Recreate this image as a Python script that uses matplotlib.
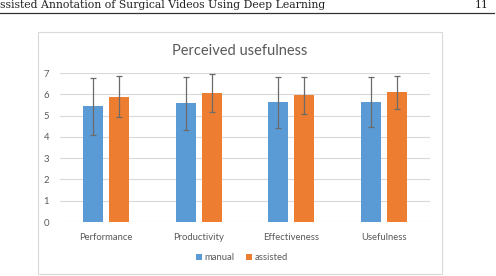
import numpy as np
import matplotlib.pyplot as plt
from matplotlib.patches import Rectangle

categories = ['Performance', 'Productivity', 'Effectiveness', 'Usefulness']
manual = [5.43, 5.57, 5.62, 5.62]
manual_err = [1.35, 1.25, 1.2, 1.17]
assisted = [5.88, 6.06, 5.95, 6.1]
assisted_err = [0.97, 0.88, 0.87, 0.78]
yticks = [0, 1, 2, 3, 4, 5, 6, 7]

plt.rcParams['font.family'] = ['Lato', 'DejaVu Sans']
grey = '#595959'

fig = plt.figure(figsize=(4.96, 2.76), dpi=100)

# page header
fig.text(0.0, 0.999, 'ssisted Annotation of Surgical Videos Using Deep Learning',
         family='DejaVu Serif', fontsize=7.8, va='top', ha='left', color='#222222')
fig.text(0.985, 0.999, '11', family='DejaVu Serif', fontsize=7.8, va='top', ha='right', color='#222222')
fig.add_artist(plt.Line2D([0, 0.996], [1 - 12.5 / 276] * 2, color='#333333', lw=0.9))

# chart box
fig.add_artist(Rectangle((38 / 496, 2 / 276), 404 / 496, 242 / 276, fill=False,
                         edgecolor='#D9D9D9', lw=0.8))

ax = fig.add_axes([60 / 496, 1 - 222 / 276, 370 / 496, 149 / 276])
x = np.arange(len(categories))
w = 0.22
off = 0.14
ekw = dict(ecolor='#6b6b6b', elinewidth=0.9, capsize=2.2, capthick=0.9)
ax.bar(x - off, manual, w, yerr=manual_err, color='#5B9BD5', label='manual', error_kw=ekw, zorder=3)
ax.bar(x + off, assisted, w, yerr=assisted_err, color='#ED7D31', label='assisted', error_kw=ekw, zorder=3)

ax.set_xlim(-0.5, len(categories) - 0.5)
ax.set_ylim(0, 7)
ax.set_yticks(yticks)
ax.set_xticks(x)
ax.set_xticklabels(categories)
ax.grid(axis='y', color='#D9D9D9', lw=0.8, zorder=0)
for s in ax.spines.values():
    s.set_visible(False)
ax.tick_params(length=0, labelsize=6.8, colors=grey)
ax.tick_params(axis='y', pad=8)
ax.tick_params(axis='x', pad=8)

fig.text(240 / 496, 1 - 51 / 276, 'Perceived usefulness', ha='center', va='center',
         fontsize=10.5, color=grey)

fig.legend(loc='center', bbox_to_anchor=(0.488, 1 - 258 / 276), ncol=2, frameon=False,
           fontsize=6.8, labelcolor=grey, handlelength=0.6, handleheight=0.6,
           handletextpad=0.3, columnspacing=1.2)

fig.savefig('out.png', dpi=100)
